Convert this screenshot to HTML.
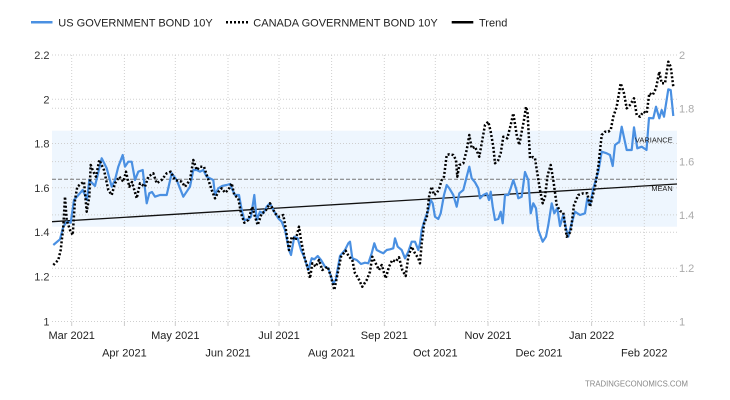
<!DOCTYPE html>
<html><head><meta charset="utf-8"><style>
html,body{margin:0;padding:0;background:#fff;}
svg{display:block;font-family:"Liberation Sans",Arial,sans-serif;}
</style></head><body>
<svg width="730" height="400" viewBox="0 0 730 400" xmlns="http://www.w3.org/2000/svg">
<rect width="730" height="400" fill="#fff"/>
<!-- legend -->
<line x1="31" y1="22.3" x2="52.5" y2="22.3" stroke="#4a90e2" stroke-width="2.5"/>
<text x="58.3" y="26.3" font-size="11" fill="#222">US GOVERNMENT BOND 10Y</text>
<line x1="226" y1="22.3" x2="248" y2="22.3" stroke="#000" stroke-width="2.5" stroke-dasharray="2 2"/>
<text x="253.3" y="26.3" font-size="11" fill="#222">CANADA GOVERNMENT BOND 10Y</text>
<line x1="451.7" y1="22.3" x2="473.3" y2="22.3" stroke="#000" stroke-width="2.5"/>
<text x="479" y="26.3" font-size="11" fill="#222">Trend</text>

<!-- variance band -->
<rect x="52" y="130.7" width="625" height="96" fill="#eef6fe"/>

<!-- gridlines -->
<g stroke="#cfcfcf" stroke-width="1" stroke-dasharray="1 2" fill="none">
<line x1="52" y1="55" x2="677" y2="55"/>
<line x1="52" y1="99.3" x2="677" y2="99.3"/>
<line x1="52" y1="143.5" x2="677" y2="143.5"/>
<line x1="52" y1="187.8" x2="677" y2="187.8"/>
<line x1="52" y1="232.2" x2="677" y2="232.2"/>
<line x1="52" y1="276.5" x2="677" y2="276.5"/>
<line x1="52" y1="108.3" x2="677" y2="108.3"/>
<line x1="52" y1="161.6" x2="677" y2="161.6"/>
<line x1="52" y1="214.9" x2="677" y2="214.9"/>
<line x1="52" y1="268.2" x2="677" y2="268.2"/>
<line x1="52" y1="321.5" x2="677" y2="321.5"/>
<line x1="71.7" y1="55" x2="71.7" y2="321.5"/>
<line x1="124.4" y1="55" x2="124.4" y2="321.5"/>
<line x1="175.3" y1="55" x2="175.3" y2="321.5"/>
<line x1="228" y1="55" x2="228" y2="321.5"/>
<line x1="279" y1="55" x2="279" y2="321.5"/>
<line x1="331.6" y1="55" x2="331.6" y2="321.5"/>
<line x1="384.3" y1="55" x2="384.3" y2="321.5"/>
<line x1="435.3" y1="55" x2="435.3" y2="321.5"/>
<line x1="488" y1="55" x2="488" y2="321.5"/>
<line x1="539" y1="55" x2="539" y2="321.5"/>
<line x1="591.6" y1="55" x2="591.6" y2="321.5"/>
<line x1="644.3" y1="55" x2="644.3" y2="321.5"/>
</g>
<g stroke="#ccc" stroke-width="1">
<line x1="71.7" y1="321.5" x2="71.7" y2="326"/>
<line x1="124.4" y1="321.5" x2="124.4" y2="326"/>
<line x1="175.3" y1="321.5" x2="175.3" y2="326"/>
<line x1="228" y1="321.5" x2="228" y2="326"/>
<line x1="279" y1="321.5" x2="279" y2="326"/>
<line x1="331.6" y1="321.5" x2="331.6" y2="326"/>
<line x1="384.3" y1="321.5" x2="384.3" y2="326"/>
<line x1="435.3" y1="321.5" x2="435.3" y2="326"/>
<line x1="488" y1="321.5" x2="488" y2="326"/>
<line x1="539" y1="321.5" x2="539" y2="326"/>
<line x1="591.6" y1="321.5" x2="591.6" y2="326"/>
<line x1="644.3" y1="321.5" x2="644.3" y2="326"/>
</g>

<!-- mean dashed -->
<line x1="52" y1="179.3" x2="677" y2="179.3" stroke="#777" stroke-width="1" stroke-dasharray="4 2"/>

<!-- left axis labels -->
<g font-size="11" fill="#333" text-anchor="end">
<text x="49.5" y="59">2.2</text>
<text x="49.5" y="103.3">2</text>
<text x="49.5" y="147.5">1.8</text>
<text x="49.5" y="191.8">1.6</text>
<text x="49.5" y="236.2">1.4</text>
<text x="49.5" y="280.5">1.2</text>
<text x="49.5" y="325.5">1</text>
</g>
<!-- right axis labels -->
<g font-size="11" fill="#aaa">
<text x="679" y="59">2</text>
<text x="679" y="112.3">1.8</text>
<text x="679" y="165.6">1.6</text>
<text x="679" y="218.9">1.4</text>
<text x="679" y="272.2">1.2</text>
<text x="679" y="325.5">1</text>
</g>
<!-- x labels -->
<g font-size="11" fill="#222" text-anchor="middle">
<text x="71.7" y="339">Mar 2021</text>
<text x="124.4" y="356.3">Apr 2021</text>
<text x="175.3" y="339">May 2021</text>
<text x="228" y="356.3">Jun 2021</text>
<text x="279" y="339">Jul 2021</text>
<text x="331.6" y="356.3">Aug 2021</text>
<text x="384.3" y="339">Sep 2021</text>
<text x="435.3" y="356.3">Oct 2021</text>
<text x="488" y="339">Nov 2021</text>
<text x="539" y="356.3">Dec 2021</text>
<text x="591.6" y="339">Jan 2022</text>
<text x="644.3" y="356.3">Feb 2022</text>
</g>

<!-- trend -->
<line x1="52" y1="221.7" x2="677" y2="184" stroke="#111" stroke-width="1.3"/>

<!-- US -->
<polyline fill="none" stroke="#4a90e2" stroke-width="2.2" stroke-linejoin="round" points="53.3,245 60,239.3 63.3,226.7 66.7,221.7 70.7,222.7 74,200 82.7,190 85,195 87,200 89.3,180 95,186 101.7,158.3 106.7,168.3 111.7,186.7 115,180 118.3,166.7 122.7,155 125,166.7 128.3,161.7 131.7,161.7 135,180 138.3,171.7 142.7,170 146.7,203.3 149.3,193.3 152,192 155,196.7 160,195 166.7,195 171.7,173.3 176.7,180 183.3,196.7 190,186.7 193.3,170 196.7,170 200,171.7 203.3,170 206.7,176.7 213.3,180 215,195 218.3,188.3 222,186 226.7,185 230,184 231.7,188.3 235,195 239,195 241.7,210 244.3,220 248.3,219.3 251,216.7 254.3,195 256.7,220 260,211.7 263.3,213.3 266.7,206.7 270,203.3 273.3,210 278.3,218.3 281.7,221.7 285,230 289,250 291,255 294.3,236.7 297.7,238.3 301,250 304.3,257.3 308.3,270 311.7,258.3 314.3,259.3 317.7,256 321,260 325,266.7 328.3,268.3 333.3,283.3 335.7,280 340,256 345,250 348.3,243.3 350,241.7 352.3,258.3 356.7,260 361,264 365,262.7 368.3,263.3 371.7,253.3 374.3,243.3 376.7,250 380,251.7 383.3,253.3 386.7,250 390,249.3 393.3,248.3 395,238.3 397.7,246.7 401.7,250 405,258.3 408.3,251.7 411.7,241.7 415,241.7 418.3,250 420,243.3 421.7,230 425,219 428.3,210 430.7,200 432.7,203.3 435,216.7 438.3,219 440.7,213.3 444,195 446.7,185 449.3,188.3 453.3,195 456.7,206.7 459.3,193.3 463.3,190 466.7,176.7 469.3,166.7 471.7,178.3 475,182.3 478.3,188.3 480,198.3 483.3,195 486.7,193.3 489,200 490.7,191.7 492.7,206.7 495,220 498.3,219 500.7,211.7 502.7,223.3 505,195 508.3,195 510.7,188.3 513.3,180 516,188.3 518.3,198.3 521.7,196.7 525,172 528.3,180 530.7,213.3 533.3,203.3 536,208.3 538.3,230 542.7,241.7 546,236.7 548.3,225 551.7,203.3 554.3,213.3 557.3,208 560,226 563.3,215 566,228.3 568.3,236.7 570.7,226.7 575,211.7 580,215 585,213.3 587.3,198.3 590,205 593.3,188.3 598.3,171.7 601.7,151.7 606.7,153.3 610,155 612.7,166 615,145 619.3,141.7 621.7,126.7 626.7,150 631.7,150 634,127.3 637.3,148.3 641.7,146.7 646.5,150 649,118 653.3,118.3 656,106.7 659.3,118.3 661.7,110 664,116.7 668.3,89.3 670.7,90 673.3,116"/>

<!-- Canada -->
<polyline fill="none" stroke="#000" stroke-width="2.5" stroke-dasharray="2 2" stroke-linejoin="round" points="53.3,265 58.3,260 60.7,250 63.3,226.7 65,196.7 66.7,220 70,230 72.7,235 75,200 77.3,186.7 81.7,183.3 84,181.7 86.7,211.7 89.3,196.7 90.7,165 93.3,171.7 96,176.7 99.3,160 104,170 108.3,190 111.7,195 115,183.3 119.3,176.7 123.3,181.7 126,171.7 129.3,186.7 132,182 136.7,198.3 140,183.3 145,186.7 148.3,176.7 153.3,173.3 156.7,183.3 161.7,180 166.7,173.3 170.7,171.7 175,180 181.7,181.7 185,186.7 190,180 193.3,160 196.7,170 200,166.7 204,166.7 207.3,176.7 211.7,190 215,198.3 218.3,192 221.7,188.3 225,192.7 228.3,190 231.7,183.3 234.3,195 238.3,198.3 241,213.3 244.3,222.7 248.3,220 252.3,206.7 255,216.7 257.7,225 261.7,213.3 265,211.7 270,203.3 275,213.3 279,216.7 283.3,215 285.7,228.3 289,250 291.7,236.7 295.7,240 299,226.7 301,240 304.3,256.7 308.3,270 310,278.3 312.3,263.3 315.7,266.7 319,260 322.3,270 325,268.3 327.7,266.7 331,276.7 334.3,290 337.7,273.3 341,256.7 345.7,250.7 349,256.7 352.3,260 355,273.3 358.3,278.3 362.3,286.7 366.7,280 370,271.7 372.3,256.7 375.7,263.3 379,270 381.7,265 385.7,278.3 389,266.7 392.3,260 395.7,261.7 399,257.3 402.3,270 405.7,276 408.3,256.7 411.7,246.7 415,253.3 418.3,258.3 420,263.3 421.7,243.3 424.3,222 426.7,218.3 429.3,195 431.7,186.7 434,195 436.7,193.3 439.3,188.3 441.7,180 444,176.7 446.7,155 449.3,154.3 453.3,155 456,160 457.3,176.7 459.3,165 463.3,163.3 466.7,150 469.3,135 471.7,148.3 475,146.7 479.3,156.7 481.7,143.3 485,125 488.3,121.7 490.7,131.7 493.3,146.7 495,163.3 498.3,160 500.7,153.3 503.3,136.7 507.3,138.3 510.7,125 513.3,113.3 516.7,135 519.3,145 521.7,131.7 524,120 526,106.7 527.5,112 530,158.3 533,157 535,158.3 537.3,173.3 540,190 542.7,203.3 545,196.7 547.7,175 550.7,165 553.3,180 556.7,205 560,211 563.3,212.5 566.7,236.7 570.7,231.7 574,205 578.3,195 583.3,193.3 587.3,193.3 590,206.7 595,186.7 598.3,166.7 601.7,135 605,131.7 608.3,131.7 610.7,130 613.3,116.7 616.7,106.7 620.7,83.3 624,93.3 626.7,108.3 630,105 634,98.3 636.7,115 640,116.7 643.3,111.7 646.7,113.3 649.3,93.3 652.7,95 656,88.3 659.3,71.7 661.7,83.3 665,83.3 668.3,61.7 670.7,66.7 673.3,86.7"/>

<!-- band labels -->
<text x="672.7" y="142.7" font-size="7.5" fill="#222" text-anchor="end">VARIANCE</text>
<text x="672.7" y="191" font-size="7.4" fill="#222" text-anchor="end">MEAN</text>

<!-- watermark -->
<text x="585" y="386.3" font-size="8" fill="#888" textLength="103" lengthAdjust="spacingAndGlyphs">TRADINGECONOMICS.COM</text>
</svg>
</body></html>
